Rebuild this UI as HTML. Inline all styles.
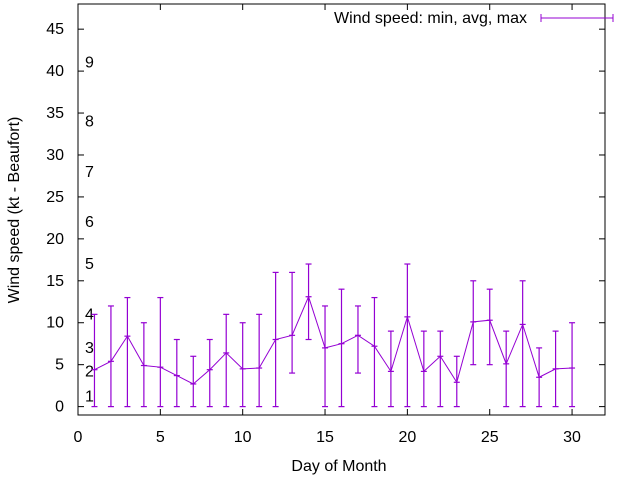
<!DOCTYPE html>
<html><head><meta charset="utf-8"><style>
body{margin:0;background:#fff}
svg text{font-family:"Liberation Sans",sans-serif;font-size:16px;fill:#000}
</style></head><body>
<svg id="chart" width="640" height="480" xmlns="http://www.w3.org/2000/svg">
<g id="axes"></g><g id="marks"></g>
<text x="0" y="0" text-anchor="middle" transform="translate(19,210) rotate(-90)">Wind speed (kt - Beaufort)</text>
<text x="339" y="471" text-anchor="middle">Day of Month</text>
<g>
<text x="527" y="23" text-anchor="end">Wind speed: min, avg, max</text>
<line x1="541" y1="18" x2="613" y2="18" stroke="#9400d3" stroke-width="1"/>
<line x1="541" y1="14" x2="541" y2="22" stroke="#9400d3"/>
<line x1="613" y1="14" x2="613" y2="22" stroke="#9400d3"/>
</g>
</svg>
<script>
const days=[1,2,3,4,5,6,7,8,9,10,11,12,13,14,15,16,17,18,19,20,21,22,23,24,25,26,27,28,29,30];
const avgSpeed=[4.4,5.4,8.4,4.9,4.7,3.7,2.7,4.4,6.4,4.5,4.6,8,8.5,13.1,7,7.5,8.5,7.2,4.2,10.7,4.2,6,2.9,10.1,10.3,5.1,9.8,3.5,4.5,4.6];
const minSpeed=[0,0,0,0,0,0,0,0,0,0,0,0,4,8,0,0,4,0,0,0,0,0,0,5,5,0,0,0,0,0];
const maxSpeed=[11,12,13,10,13,8,6,8,11,10,11,16,16,17,12,14,12,13,9,17,9,9,6,15,14,9,15,7,9,10];
const xTicks=[0,5,10,15,20,25,30];
const yTicks=[0,5,10,15,20,25,30,35,40,45];
const beaufortLabels=["1","2","3","4","5","6","7","8","9"];
const beaufortValues=[1.2,4.2,7,11,17,22,28,34,41];
const L=78,R=605,T=4,B=415;
const X=v=>L+(v-0)/(32-0)*(R-L);
const Y=v=>B-(v-(-1))/(48-(-1))*(B-T);
const NS="http://www.w3.org/2000/svg";
function mk(tag,attrs,parent){const e=document.createElementNS(NS,tag);for(const k in attrs)e.setAttribute(k,attrs[k]);parent.appendChild(e);return e;}
const ax=document.getElementById('axes'),mg=document.getElementById('marks');
const frame=mk('rect',{x:L,y:T,width:R-L,height:B-T,fill:'none',stroke:'#000','stroke-width':1},ax);


xTicks.forEach(v=>{
  const x=X(v);
  mk('line',{x1:x,y1:B,x2:x,y2:B-6,stroke:'#000'},ax);
  mk('line',{x1:x,y1:T,x2:x,y2:T+6,stroke:'#000'},ax);
  const t=mk('text',{x:x,y:B+27,'text-anchor':'middle'},ax);t.textContent=v;
  
  
});
yTicks.forEach(v=>{
  const y=Y(v);
  mk('line',{x1:L,y1:y,x2:L+6,y2:y,stroke:'#000'},ax);
  mk('line',{x1:R,y1:y,x2:R-6,y2:y,stroke:'#000'},ax);
  const t=mk('text',{x:64,y:y+5,'text-anchor':'end'},ax);t.textContent=v;
  
  
});
beaufortLabels.forEach((s,i)=>{
  const t=mk('text',{x:85,y:Y(beaufortValues[i])+5},ax);t.textContent=s;
  
  
});
const pts=days.map((d,i)=>X(d)+','+Y(avgSpeed[i])).join(' ');
const line=mk('polyline',{points:pts,fill:'none',stroke:'#9400d3','stroke-width':1},mg);


days.forEach((d,i)=>{
  const x=X(d);
  const g=mk('g',{stroke:'#9400d3','stroke-width':1.2},mg);
  
  
  mk('line',{x1:x,y1:Y(minSpeed[i]),x2:x,y2:Y(maxSpeed[i])},g);
  [minSpeed[i],maxSpeed[i],avgSpeed[i]].forEach(v=>mk('line',{x1:x-3,y1:Y(v),x2:x+3,y2:Y(v)},g));
});
</script>
</body></html>
